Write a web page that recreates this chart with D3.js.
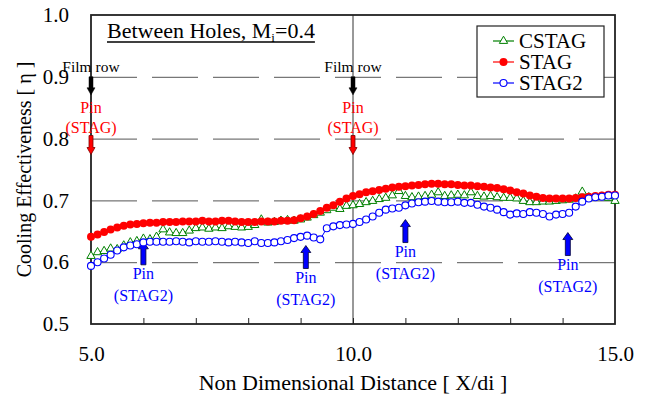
<!DOCTYPE html>
<html>
<head>
<meta charset="utf-8">
<script src="https://cdn.jsdelivr.net/npm/d3@7"></script>
<style>
  html, body { margin: 0; padding: 0; background: #fff; }
  svg { display: block; }
  text { font-family: "Liberation Serif", "Times New Roman", "DejaVu Serif", serif; }
</style>
</head>
<body>
<svg id="chart" width="645" height="398" font-family="Liberation Serif"></svg>
<script>
// ---------- data ----------
const xValues = [
  5.0, 5.125, 5.25, 5.375, 5.5, 5.625, 5.75, 5.875,
  6.0, 6.125, 6.25, 6.375, 6.5, 6.625, 6.75, 6.875,
  7.0, 7.125, 7.25, 7.375, 7.5, 7.625, 7.75, 7.875,
  8.0, 8.125, 8.25, 8.375, 8.5, 8.625, 8.75, 8.875,
  9.0, 9.125, 9.25, 9.375, 9.5, 9.625, 9.75, 9.875,
  10.0, 10.125, 10.25, 10.375, 10.5, 10.625, 10.75, 10.875,
  11.0, 11.125, 11.25, 11.375, 11.5, 11.625, 11.75, 11.875,
  12.0, 12.125, 12.25, 12.375, 12.5, 12.625, 12.75, 12.875,
  13.0, 13.125, 13.25, 13.375, 13.5, 13.625, 13.75, 13.875,
  14.0, 14.125, 14.25, 14.375, 14.5, 14.625, 14.75, 14.875,
  15.0
];

const cstag = [
  0.610, 0.616, 0.618, 0.622, 0.621, 0.627, 0.632, 0.634,
  0.638, 0.637, 0.641, 0.653, 0.648, 0.647, 0.647, 0.651,
  0.655, 0.656, 0.654, 0.656, 0.655, 0.658, 0.657, 0.656,
  0.657, 0.660, 0.669, 0.664, 0.665, 0.667, 0.668, 0.667,
  0.669, 0.672, 0.676, 0.680, 0.684, 0.688, 0.686, 0.691,
  0.692, 0.694, 0.697, 0.699, 0.702, 0.704, 0.708, 0.715,
  0.707, 0.705, 0.706, 0.707, 0.709, 0.713, 0.707, 0.708,
  0.709, 0.708, 0.713, 0.707, 0.706, 0.707, 0.705, 0.704,
  0.704, 0.703, 0.699, 0.697, 0.697, 0.698, 0.698, 0.699,
  0.700, 0.701, 0.703, 0.714, 0.705, 0.705, 0.706, 0.704,
  0.699
];

const stag = [
  0.641, 0.645, 0.649, 0.653, 0.656, 0.659, 0.661, 0.662,
  0.663, 0.664, 0.664, 0.665, 0.665, 0.665, 0.666, 0.666,
  0.666, 0.667, 0.666, 0.666, 0.667, 0.667, 0.666, 0.665,
  0.665, 0.665, 0.666, 0.666, 0.666, 0.667, 0.667, 0.668,
  0.671, 0.674, 0.678, 0.683, 0.688, 0.692, 0.698, 0.703,
  0.707, 0.710, 0.713, 0.715, 0.717, 0.719, 0.721, 0.722,
  0.723, 0.724, 0.725, 0.726, 0.727, 0.727, 0.726, 0.726,
  0.725, 0.724, 0.724, 0.723, 0.722, 0.721, 0.720, 0.718,
  0.716, 0.713, 0.711, 0.708, 0.706, 0.704, 0.703, 0.703,
  0.703, 0.703, 0.704, 0.705, 0.706, 0.707, 0.708, 0.709,
  0.709
];

const stag2 = [
  0.594, 0.600, 0.606, 0.612, 0.619, 0.624, 0.627, 0.629,
  0.632, 0.633, 0.633, 0.633, 0.633, 0.634, 0.633, 0.632,
  0.634, 0.633, 0.633, 0.634, 0.633, 0.632, 0.633, 0.632,
  0.631, 0.634, 0.631, 0.631, 0.632, 0.634, 0.636, 0.639,
  0.641, 0.643, 0.640, 0.637, 0.655, 0.658, 0.660, 0.661,
  0.662, 0.665, 0.669, 0.674, 0.680, 0.685, 0.687, 0.688,
  0.692, 0.695, 0.697, 0.698, 0.699, 0.698, 0.697, 0.697,
  0.698, 0.696, 0.696, 0.693, 0.690, 0.688, 0.685, 0.681,
  0.677, 0.679, 0.678, 0.681, 0.680, 0.678, 0.674, 0.677,
  0.678, 0.680, 0.690, 0.698, 0.703, 0.705, 0.706, 0.708,
  0.708
];

const seriesNames = ["CSTAG", "STAG", "STAG2"];
const yTicks = [0.5, 0.6, 0.7, 0.8, 0.9, 1.0];
const yGrid = [0.6, 0.7, 0.8, 0.9];
const xTickLabels = [5, 10, 15];
const xMinorTicks = [6, 7, 8, 9, 10, 11, 12, 13, 14];
const filmRowX = [5, 10];
const pinStagX = [5, 10];
const pinStag2 = [
  { x: 6.0, tip: 0.633 },
  { x: 9.1, tip: 0.627 },
  { x: 11.0, tip: 0.669 },
  { x: 14.1, tip: 0.648 }
];

// ---------- layout ----------
const svg = d3.select("#chart");
const L = 91, R = 615, T = 15, B = 324;
const x = d3.scaleLinear().domain([5, 15]).range([L, R]);
const y = d3.scaleLinear().domain([0.5, 1.0]).range([B, T]);
const fmt = d3.format(".1f");
const SERIF = "Liberation Serif";

// gridlines
const grid = svg.append("g").attr("transform", `translate(${L},0)`)
  .call(d3.axisLeft(y).tickValues(yGrid).tickSize(-(R - L)).tickFormat(""));
grid.select(".domain").remove();
grid.selectAll("line").attr("stroke", "#555").attr("stroke-width", 1)
  .attr("stroke-dasharray", "46,15");

// vertical line at X = 10
svg.append("line")
  .attr("x1", x(10)).attr("x2", x(10)).attr("y1", T).attr("y2", B)
  .attr("stroke", "#333").attr("stroke-width", 1);

// minor ticks on bottom axis (inside)
const minor = svg.append("g").attr("transform", `translate(0,${B})`)
  .call(d3.axisBottom(x).tickValues(xMinorTicks).tickSize(-6).tickFormat(""));
minor.select(".domain").remove();
minor.selectAll("line").attr("stroke", "#222").attr("stroke-width", 1);

// frame
svg.append("rect").attr("x", L).attr("y", T).attr("width", R - L).attr("height", B - T)
  .attr("fill", "none").attr("stroke", "#222").attr("stroke-width", 1.8);

// y axis labels
const yAx = svg.append("g").attr("transform", `translate(${L},0)`)
  .call(d3.axisLeft(y).tickValues(yTicks).tickSize(0).tickPadding(22).tickFormat(fmt));
yAx.attr("font-family", SERIF);
yAx.select(".domain").remove();
yAx.selectAll("text").attr("font-family", SERIF).attr("font-size", 21).attr("fill", "#000");

// x axis labels
const xAx = svg.append("g").attr("transform", `translate(0,${B})`)
  .call(d3.axisBottom(x).tickValues(xTickLabels).tickSize(0).tickPadding(22).tickFormat(fmt));
xAx.attr("font-family", SERIF);
xAx.select(".domain").remove();
xAx.selectAll("text").attr("font-family", SERIF).attr("font-size", 21).attr("fill", "#000");

// axis titles
svg.append("text").attr("x", (L + R) / 2).attr("y", 390).attr("text-anchor", "middle")
  .attr("font-family", SERIF).attr("font-size", 22).text("Non Dimensional Distance [ X/di ]");
svg.append("text").attr("transform", `translate(31,${(T + B) / 2}) rotate(-90)`)
  .attr("text-anchor", "middle").attr("font-family", SERIF).attr("font-size", 20)
  .text("Cooling Effectiveness [ η ]");

// title
const title = svg.append("text").attr("x", 107).attr("y", 38)
  .attr("font-family", SERIF).attr("font-size", 22);
title.append("tspan").text("Between Holes, M");
title.append("tspan").attr("font-size", 13).attr("dy", 4).text("i");
title.append("tspan").attr("dy", -4).text("=0.4");
const tb = title.node().getBBox();
svg.append("line").attr("x1", tb.x).attr("x2", tb.x + tb.width).attr("y1", 42).attr("y2", 42)
  .attr("stroke", "#000").attr("stroke-width", 1.3);

// ---------- arrows & annotations ----------
function arrowPath(cx, y0, y1, sw, hw, hl) {
  const dir = y1 > y0 ? 1 : -1;
  const yb = y1 - dir * hl;
  return `M${cx - sw / 2},${y0} L${cx + sw / 2},${y0} L${cx + sw / 2},${yb} L${cx + hw / 2},${yb} L${cx},${y1} L${cx - hw / 2},${yb} L${cx - sw / 2},${yb} Z`;
}

filmRowX.forEach(fx => {
  const cx = x(fx);
  svg.append("text").attr("x", cx).attr("y", 72).attr("text-anchor", "middle")
    .attr("font-family", SERIF).attr("font-size", 15.5).attr("fill", "#000").text("Film row");
  svg.append("path").attr("d", arrowPath(cx, y(0.9), y(0.9) + 18, 4, 8, 7))
    .attr("fill", "#000").attr("stroke", "#000").attr("stroke-width", 0.5);
});

pinStagX.forEach(px => {
  const cx = x(px);
  svg.append("text").attr("x", cx).attr("y", 113).attr("text-anchor", "middle")
    .attr("font-family", SERIF).attr("font-size", 16).attr("fill", "#ff0000").text("Pin");
  svg.append("text").attr("x", cx).attr("y", 133).attr("text-anchor", "middle")
    .attr("font-family", SERIF).attr("font-size", 16).attr("fill", "#ff0000").text("(STAG)");
  svg.append("path").attr("d", arrowPath(cx, y(0.805), y(0.805) + 19, 4, 8, 7))
    .attr("fill", "#ff0000").attr("stroke", "#800000").attr("stroke-width", 0.8);
});

pinStag2.forEach(p => {
  const cx = x(p.x), tip = y(p.tip);
  svg.append("path").attr("d", arrowPath(cx, tip + 23, tip, 5, 10, 7))
    .attr("fill", "#0000ff").attr("stroke", "#000033").attr("stroke-width", 0.8);
  svg.append("text").attr("x", cx).attr("y", tip + 37).attr("text-anchor", "middle")
    .attr("font-family", SERIF).attr("font-size", 16).attr("fill", "#0000ff").text("Pin");
  svg.append("text").attr("x", cx).attr("y", tip + 59).attr("text-anchor", "middle")
    .attr("font-family", SERIF).attr("font-size", 16).attr("fill", "#0000ff").text("(STAG2)");
});

// ---------- series ----------
const line = d3.line().x((d, i) => x(xValues[i])).y(d => y(d));
const tri = d3.symbol().type(d3.symbolTriangle).size(30);

// CSTAG
svg.append("path").datum(cstag).attr("d", line).attr("fill", "none")
  .attr("stroke", "#008000").attr("stroke-width", 1);
svg.append("g").selectAll("path").data(cstag).join("path")
  .attr("d", tri).attr("transform", (d, i) => `translate(${x(xValues[i])},${y(d)})`)
  .attr("fill", "#fff").attr("stroke", "#008000").attr("stroke-width", 1);

// STAG
svg.append("path").datum(stag).attr("d", line).attr("fill", "none")
  .attr("stroke", "#ff0000").attr("stroke-width", 1.2);
svg.append("g").selectAll("circle").data(stag).join("circle")
  .attr("cx", (d, i) => x(xValues[i])).attr("cy", d => y(d)).attr("r", 4)
  .attr("fill", "#ff0000");

// STAG2
svg.append("path").datum(stag2).attr("d", line).attr("fill", "none")
  .attr("stroke", "#0000ff").attr("stroke-width", 1);
svg.append("g").selectAll("circle").data(stag2).join("circle")
  .attr("cx", (d, i) => x(xValues[i])).attr("cy", d => y(d)).attr("r", 3.5)
  .attr("fill", "#fff").attr("stroke", "#0000ff").attr("stroke-width", 1.1);

// ---------- legend ----------
const lg = svg.append("g");
lg.append("rect").attr("x", 477).attr("y", 26).attr("width", 127).attr("height", 71)
  .attr("fill", "#fff").attr("stroke", "#222").attr("stroke-width", 1.2);
const legendY = [41, 62, 83];
const colors = ["#008000", "#ff0000", "#0000ff"];
seriesNames.forEach((name, k) => {
  const ly = legendY[k];
  lg.append("line").attr("x1", 493).attr("x2", 514).attr("y1", ly).attr("y2", ly)
    .attr("stroke", colors[k]).attr("stroke-width", 1.2);
  if (k === 0) {
    lg.append("path").attr("d", tri).attr("transform", `translate(503.5,${ly})`)
      .attr("fill", "#fff").attr("stroke", colors[k]);
  } else if (k === 1) {
    lg.append("circle").attr("cx", 503.5).attr("cy", ly).attr("r", 4).attr("fill", colors[k]);
  } else {
    lg.append("circle").attr("cx", 503.5).attr("cy", ly).attr("r", 3.5)
      .attr("fill", "#fff").attr("stroke", colors[k]).attr("stroke-width", 1.1);
  }
  lg.append("text").attr("x", 519).attr("y", ly).attr("dy", "0.35em")
    .attr("font-family", SERIF).attr("font-size", 21).attr("fill", "#000").text(name);
});
</script>
</body>
</html>
